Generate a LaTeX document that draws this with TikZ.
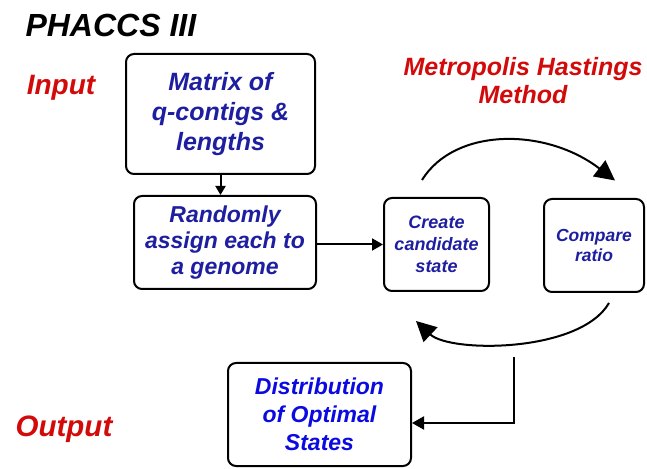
\documentclass[tikz,border=0pt]{standalone}
\usepackage{fontspec}
\setmainfont{Liberation Sans}
\usetikzlibrary{shapes.geometric, arrows.meta}

\definecolor{boxblue}{RGB}{30,30,160}
\definecolor{brightblue}{RGB}{10,10,225}
\definecolor{labelred}{RGB}{210,10,10}

\begin{document}
\begin{tikzpicture}[x=1pt,y=1pt]

\tikzstyle{box} = [rectangle, rounded corners=8pt, draw=black, line width=2pt, align=center, inner sep=0pt, text=boxblue]
\tikzstyle{sidelabel} = [anchor=base, font=\bfseries\itshape\fontsize{28}{32}\selectfont, text=labelred]
\tikzstyle{arrow} = [line width=2pt, -{Triangle[length=9pt,width=10pt]}]
\tikzstyle{looparrow} = [line width=2pt, -{Triangle[length=20pt,width=20pt]}]

\useasboundingbox (0,0) rectangle (647,468);

\node (title) [anchor=base west, font=\bfseries\itshape\fontsize{32}{36}\selectfont] at (22,431) {PHACCS III};
\node (input) [sidelabel] at (61,373) {Input};
\node (output) [sidelabel, font=\bfseries\itshape\fontsize{29.5}{32}\selectfont] at (64,31) {Output};
\node (mh) [align=center, font=\bfseries\itshape\fontsize{25}{28}\selectfont, text=labelred] at (523,387) {Metropolis Hastings\\Method};

\node (A) [box, minimum width=189pt, minimum height=120pt, font=\bfseries\itshape\fontsize{25}{30}\selectfont] at (220.5,354) {Matrix of\\q-contigs \&\\lengths};
\node (B) [box, minimum width=182pt, minimum height=93pt, font=\bfseries\itshape\fontsize{23}{26}\selectfont] at (225,225.5) {Randomly\\assign each to\\a genome};
\node (C) [box, minimum width=105pt, minimum height=93pt, font=\bfseries\itshape\fontsize{18}{22}\selectfont] at (436.5,223.5) {Create\\candidate\\state};
\node (D) [box, minimum width=100pt, minimum height=93pt, font=\bfseries\itshape\fontsize{17.5}{20}\selectfont] at (594,222.5) {Compare\\ratio};
\node (E) [box, minimum width=183pt, minimum height=103pt, text=brightblue, font=\bfseries\itshape\fontsize{23}{28}\selectfont] at (319.5,53.5) {Distribution\\of Optimal\\States};

\coordinate (exit) at (514,111);

\draw [arrow] (A.south) -- (A.south |- B.north);
\draw [arrow, -{Triangle[length=11pt,width=12pt]}] (B.east |- C.west) -- (C.west);
\draw [looparrow] ([xshift=-14.5pt,yshift=17pt]C.north) .. controls +(33,53) and +(-69,53) .. ([xshift=21pt,yshift=17.5pt]D.north);
\draw [looparrow] ([xshift=15pt,yshift=-10pt]D.south) .. controls +(-29,-50) and +(34,-32) .. ([xshift=-20.5pt,yshift=-29pt]C.south);
\draw [arrow, -{Triangle[length=12pt,width=13pt]}] (exit) |- ([yshift=-8.5pt]E.east);

\end{tikzpicture}
\end{document}
